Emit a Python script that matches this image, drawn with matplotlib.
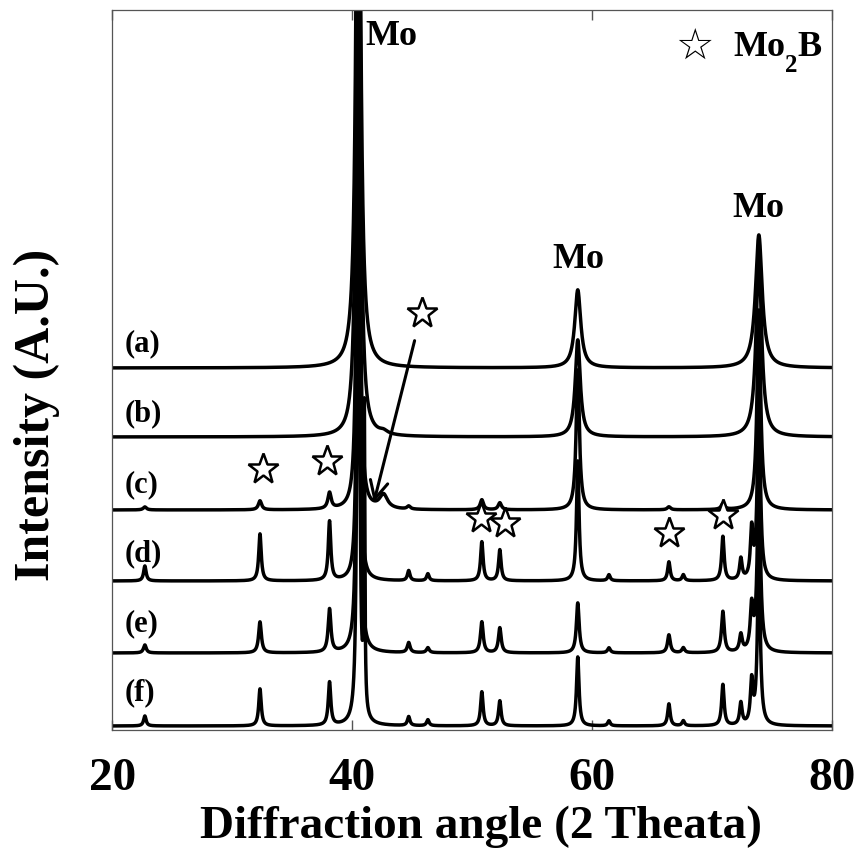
import matplotlib
matplotlib.use("Agg")
import matplotlib.pyplot as plt
import numpy as np

plt.rcParams['font.family'] = ['Liberation Serif', 'DejaVu Sans']
plt.rcParams['font.weight'] = 'bold'

# peak positions (2 theta)
peak_pos = [22.7, 32.3, 38.1, 40.5, 41.0, 42.6, 44.7, 46.3, 50.8, 52.3,
            58.8, 61.4, 66.4, 67.6, 70.9, 72.4, 73.3, 73.9]
peak_fwhm = [0.25, 0.25, 0.25, 0.17, 0.10, 0.8, 0.25, 0.25, 0.25, 0.25,
             0.25, 0.25, 0.25, 0.25, 0.25, 0.25, 0.25, 0.28]

# peak heights per pattern (same units as the vertical offsets)
h_a = [0, 0, 0, 730, 0, 0, 0, 0, 0, 0, 78, 0, 0, 0, 0, 0, 0, 133]
h_b = [0, 0, 0, 800, 0, 3, 0, 0, 0, 0, 97, 0, 0, 0, 0, 0, 0, 180]
h_c = [3, 9, 16, 900, 0, 14, 3, 0, 10, 7, 140, 0, 3, 0, 6, 0, 0, 200]
h_d = [15, 47, 59, 1000, 0, 0, 10, 7, 39, 31, 120, 6, 19, 6, 44, 21, 48, 200]
h_e = [8, 31, 43, 1000, 0, 0, 10, 5, 31, 25, 50, 5, 18, 5, 41, 17, 43, 180]
h_f = [10, 37, 43, 1000, 300, 0, 9, 6, 34, 25, 69, 5, 22, 5, 41, 22, 42, 170]

heights = [h_a, h_b, h_c, h_d, h_e, h_f]
broadening = [2.4, 2.0, 1.3, 1.0, 1.1, 1.0]
offsets = [362, 293, 220, 149, 77, 4]
labels = ['(a)', '(b)', '(c)', '(d)', '(e)', '(f)']
label_y = [386, 316, 245, 176, 106, 37]

# Mo2B star marks
star_x = [32.54, 37.88, 45.81, 50.73, 52.76, 66.37, 70.93]
star_y = [261, 269, 417, 212, 207, 197, 215]

mo_x = [43.25, 58.86, 73.87]
mo_y = [685, 462, 513]

tt = np.linspace(20, 80, 6001)


def pattern(h, k):
    y = np.zeros_like(tt)
    for p, w, a in zip(peak_pos, peak_fwhm, h):
        if a == 0:
            continue
        ww = w * k
        if p == 42.6:
            ww = w
        y += a / (1 + (2 * (tt - p) / ww) ** 2)
    return y


fig = plt.figure(figsize=(8.58, 8.5), dpi=100)
ax = fig.add_axes([0.1311, 0.1412, 0.8386, 0.8471])

for h, k, off in zip(heights, broadening, offsets):
    ax.plot(tt, pattern(h, k) + off, color='black', lw=2.5)

for lab, ly in zip(labels, label_y):
    ax.text(21.04, ly, lab, fontsize=22, fontweight='bold', va='center', ha='left')

for mx, my in zip(mo_x, mo_y):
    ax.text(mx, my, 'Mo', fontsize=26, fontweight='bold', ha='center', va='baseline')

ax.plot(star_x, star_y, linestyle='none', marker='*', ms=23,
        mfc='white', mec='black', mew=1.8, zorder=5)

ax.annotate('', xy=(41.74, 225), xytext=(45.25, 392),
            arrowprops=dict(arrowstyle='->', lw=2.2, color='black', mutation_scale=32))

# legend-like key in the corner
ax.text(68.57, 683.5, '\u2606', fontsize=31, family='DejaVu Sans',
        ha='center', va='center')
ax.text(71.79, 674, 'Mo', fontsize=26, fontweight='bold', ha='left', va='baseline')
ax.text(76.05, 658, '2', fontsize=18, fontweight='bold', ha='left', va='baseline')
ax.text(77.1, 674, 'B', fontsize=26, fontweight='bold', ha='left', va='baseline')

ax.set_xlim(20, 80)
ax.set_ylim(0, 720)
ax.set_xticks([20, 40, 60, 80])
ax.set_yticks([])
ax.tick_params(axis='x', direction='in', top=True, length=7, width=1,
               labelsize=34, pad=20, color='#555555')
for s in ax.spines.values():
    s.set_linewidth(0.9)
    s.set_color('#555555')

ax.set_xlabel('Diffraction angle (2 Theata)', fontsize=34, fontweight='bold', va='baseline')
ax.xaxis.set_label_coords(0.512, -0.15)
ax.set_ylabel('Intensity (A.U.)', fontsize=36, fontweight='bold')
ax.yaxis.set_label_coords(-0.073, 0.4375)

fig.savefig('out.png', dpi=100)
